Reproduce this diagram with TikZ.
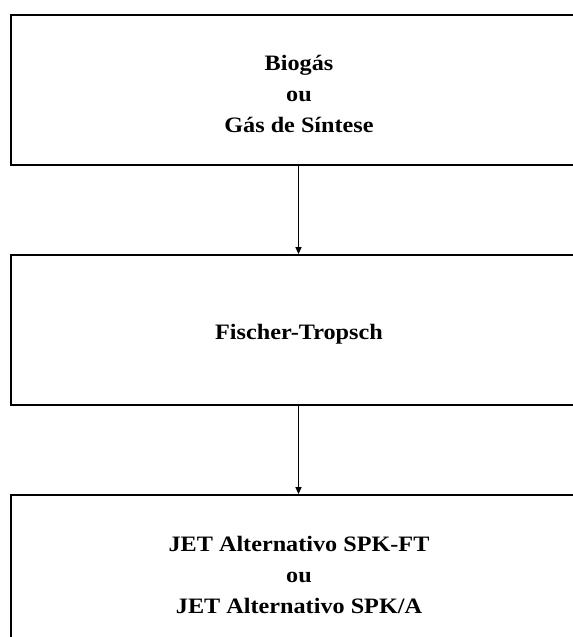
\documentclass[tikz,border=0pt]{standalone}
\usepackage{fontspec}
\setmainfont{Liberation Serif}
\usetikzlibrary{arrows.meta}
\tikzset{
  stagebox/.style={draw=black, line width=1.8bp, fill=white, rectangle,
    minimum width=575bp, minimum height=150bp, inner sep=0pt},
  stagetext/.style={align=center, inner sep=0pt,
    font=\fontsize{22bp}{31bp}\selectfont\bfseries},
  flow/.style={draw=black, line width=1.4bp,
    -{Triangle[length=7bp,width=6bp]}}
}
\newcommand{\widetext}[1]{\scalebox{1.1}[1]{#1}}
\begin{document}
\begin{tikzpicture}[x=1bp, y=-1bp]
  \useasboundingbox (0,0) rectangle (573,637);
  \clip (0,0) rectangle (573,637);
  \fill[white] (0,0) rectangle (573,637);

  % process stages
  \node[stagebox] (feed) at (298.5,90.3) {};
  \node[stagebox] (ft)   at (298.5,330) {};
  \node[stagebox] (jet)  at (298.5,570) {};

  % stage captions
  \node[stagetext] (feedtxt) at (299,94) {\widetext{Biog\'as}\\ \widetext{ou}\\ \widetext{G\'as de S\'intese}};
  \node[stagetext] (fttxt)   at (299,334) {\widetext{Fischer-Tropsch}};
  \node[stagetext] (jettxt)  at (299,575) {\widetext{JET Alternativo SPK-FT}\\ \widetext{ou}\\ \widetext{JET Alternativo SPK/A}};

  % flow between stages
  \draw[flow] (feed.south) -- (ft.north);
  \draw[flow] (ft.south) -- (jet.north);
\end{tikzpicture}
\end{document}
